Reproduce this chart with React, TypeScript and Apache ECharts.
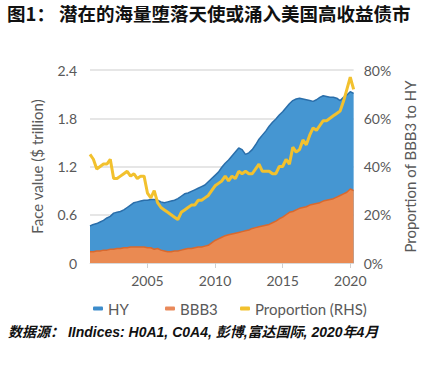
import React, { useEffect, useRef } from "react";
import * as echarts from "echarts";

const years: number[] = [
  2000.75, 2001.0, 2001.25, 2001.5, 2001.75, 2002.0, 2002.25, 2002.5, 2002.75, 2003.0,
  2003.25, 2003.5, 2003.75, 2004.0, 2004.25, 2004.5, 2004.75, 2005.0, 2005.25, 2005.5,
  2005.75, 2006.0, 2006.25, 2006.5, 2006.75, 2007.0, 2007.25, 2007.5, 2007.75, 2008.0,
  2008.25, 2008.5, 2008.75, 2009.0, 2009.25, 2009.5, 2009.75, 2010.0, 2010.25, 2010.5,
  2010.75, 2011.0, 2011.25, 2011.5, 2011.75, 2012.0, 2012.25, 2012.5, 2012.75, 2013.0,
  2013.25, 2013.5, 2013.75, 2014.0, 2014.25, 2014.5, 2014.75, 2015.0, 2015.25, 2015.5,
  2015.75, 2016.0, 2016.25, 2016.5, 2016.75, 2017.0, 2017.25, 2017.5, 2017.75, 2018.0,
  2018.25, 2018.5, 2018.75, 2019.0, 2019.25, 2019.5, 2019.75, 2020.0, 2020.25,
];

const hyValues: number[] = [
  0.46, 0.48, 0.49, 0.51, 0.53, 0.56, 0.58, 0.62, 0.63, 0.64,
  0.66, 0.69, 0.72, 0.75, 0.76, 0.77, 0.78, 0.78, 0.79, 0.79,
  0.78, 0.76, 0.75, 0.76, 0.77, 0.78, 0.8, 0.83, 0.86, 0.87,
  0.89, 0.91, 0.93, 0.95, 0.97, 1.01, 1.05, 1.09, 1.13, 1.19,
  1.24, 1.28, 1.33, 1.38, 1.43, 1.41, 1.35, 1.37, 1.41, 1.47,
  1.54, 1.59, 1.64, 1.7, 1.75, 1.79, 1.84, 1.88, 1.93, 1.98,
  2.02, 2.04, 2.05, 2.04, 2.03, 2.02, 2.01, 2.03, 2.06, 2.08,
  2.07, 2.06, 2.06, 2.05, 2.02, 2.06, 2.09, 2.13, 2.11,
];

const bbb3Values: number[] = [
  0.14, 0.14, 0.15, 0.15, 0.16, 0.16, 0.17, 0.17, 0.18, 0.18,
  0.19, 0.19, 0.2, 0.2, 0.2, 0.2, 0.2, 0.19, 0.19, 0.17,
  0.18, 0.16, 0.15, 0.14, 0.14, 0.15, 0.15, 0.16, 0.17, 0.18,
  0.18, 0.19, 0.2, 0.2, 0.21, 0.22, 0.25, 0.28, 0.3, 0.32,
  0.34, 0.35, 0.36, 0.37, 0.38, 0.39, 0.4, 0.41, 0.43, 0.44,
  0.45, 0.46, 0.47, 0.48, 0.5, 0.52, 0.55, 0.57, 0.6, 0.63,
  0.64, 0.66, 0.68, 0.69, 0.7, 0.72, 0.73, 0.74, 0.75, 0.77,
  0.78, 0.79, 0.8, 0.82, 0.84, 0.86, 0.88, 0.92, 0.9,
];

const proportionValues: number[] = [
  45, 43, 39, 40, 41, 41, 43, 35, 35, 36,
  37, 38, 36, 37, 35, 36, 36, 29, 27, 30,
  25, 23, 22, 21, 20, 19, 18, 21, 22, 23,
  24, 24, 26, 26, 27, 28, 30, 32, 33, 34,
  36, 34, 36, 35, 38, 37, 38, 37, 37, 39,
  41, 38, 38, 38, 37, 37, 40, 40, 43, 41,
  48, 46, 47, 51, 49, 53, 56, 55, 57, 59,
  59, 60, 61, 62, 63, 67, 72, 77, 72,
];

const xTickYears: number[] = [2005, 2010, 2015, 2020];
const seriesNames: string[] = ["HY", "BBB3", "Proportion (RHS)"];

const FONT = "Lato, 'Noto Sans', sans-serif";
const GREY = "#595959";

export default function App() {
  const ref = useRef<HTMLDivElement>(null);
  useEffect(() => {
    if (!ref.current) return;
    const chart = echarts.init(ref.current, null, { renderer: "svg" });
    const pair = (vals: number[]) => years.map((y, i) => [y, vals[i]]);
    const legendCommon = {
      top: 301,
      padding: 0,
      itemWidth: 10,
      itemHeight: 4,
      itemGap: 4,
      icon: "roundRect",
      textStyle: { color: GREY, fontSize: 15, fontFamily: FONT },
      selectedMode: false,
    };
    chart.setOption({
      animation: false,
      backgroundColor: "#ffffff",
      title: [
        {
          text: "图1： 潜在的海量堕落天使或涌入美国高收益债市",
          left: 7,
          top: 2,
          padding: 0,
          textStyle: {
            fontSize: 18.5,
            lineHeight: 22,
            fontWeight: "bold",
            color: "#111",
            fontFamily: "'Noto Sans CJK SC', 'Liberation Sans', sans-serif",
          },
        },
        {
          text: "数据源： IIndices: H0A1, C0A4, 彭博,富达国际, 2020年4月",
          left: 8,
          top: 325,
          padding: 0,
          textStyle: {
            fontSize: 14,
            fontWeight: "bold",
            fontStyle: "italic",
            color: "#111",
            fontFamily: "'Liberation Sans', 'Noto Sans CJK SC', sans-serif",
          },
        },
      ],
      legend: [
        { ...legendCommon, left: 93, data: [seriesNames[0]] },
        { ...legendCommon, left: 165, data: [seriesNames[1]] },
        { ...legendCommon, left: 240, data: [seriesNames[2]] },
      ],
      grid: { left: 90, right: 68, top: 70, bottom: 114 },
      xAxis: {
        type: "value",
        min: 2000.75,
        max: 2020.25,
        axisLine: { show: true, lineStyle: { color: "#d9d9d9", width: 1 } },
        axisTick: {
          show: true,
          customValues: xTickYears,
          length: 5,
          lineStyle: { color: "#d0d0d0" },
        },
        axisLabel: {
          customValues: xTickYears,
          color: GREY,
          fontSize: 14,
          fontFamily: FONT,
          margin: 10,
          formatter: (v: number) => String(Math.round(v)),
        },
        splitLine: { show: false },
      },
      yAxis: [
        {
          type: "value",
          min: 0,
          max: 2.4,
          interval: 0.6,
          name: "Face value ($ trillion)",
          nameLocation: "middle",
          nameGap: 46,
          nameTextStyle: { color: GREY, fontSize: 15, fontFamily: FONT },
          axisLabel: { color: GREY, fontSize: 14, fontFamily: FONT, margin: 13 },
          axisLine: { show: false },
          axisTick: { show: false },
          splitLine: { lineStyle: { color: "#dedede", width: 1.5 } },
        },
        {
          type: "value",
          min: 0,
          max: 80,
          interval: 20,
          position: "right",
          name: "Proportion of BBB3 to HY",
          nameLocation: "middle",
          nameGap: 48,
          nameRotate: 90,
          nameTextStyle: { color: GREY, fontSize: 15, fontFamily: FONT },
          axisLabel: {
            color: GREY,
            fontSize: 14,
            fontFamily: FONT,
            margin: 10,
            formatter: "{value}%",
          },
          axisLine: { show: false },
          axisTick: { show: false },
          splitLine: { show: false },
        },
      ],
      series: [
        {
          name: seriesNames[0],
          type: "line",
          data: pair(hyValues),
          showSymbol: false,
          symbol: "none",
          itemStyle: { color: "#3c8ccb" },
          lineStyle: { color: "#2a6eaa", width: 1.5 },
          areaStyle: { color: "#4596d2", opacity: 1 },
          z: 2,
        },
        {
          name: seriesNames[1],
          type: "line",
          data: pair(bbb3Values),
          showSymbol: false,
          symbol: "none",
          itemStyle: { color: "#e9895a" },
          lineStyle: { color: "#d9692e", width: 1.5 },
          areaStyle: { color: "#ea8a52", opacity: 1 },
          z: 3,
        },
        {
          name: seriesNames[2],
          type: "line",
          yAxisIndex: 1,
          data: pair(proportionValues),
          showSymbol: false,
          symbol: "none",
          itemStyle: { color: "#f2c12e" },
          lineStyle: { color: "#f2c12e", width: 3 },
          z: 4,
        },
      ],
    });
    return () => chart.dispose();
  }, []);
  return <div ref={ref} style={{ width: 425, height: 377, position: "absolute", left: 0, top: 0 }} />;
}
